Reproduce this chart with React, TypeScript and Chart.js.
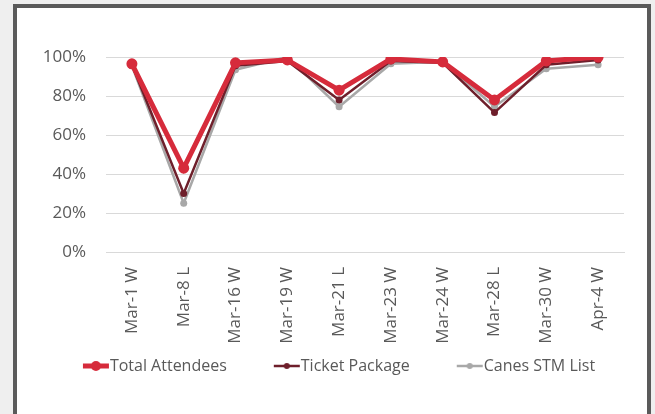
import React, { useEffect, useRef } from "react";
import { Chart, registerables } from "chart.js";

Chart.register(...registerables);

const categories = ["Mar-1 W", "Mar-8 L", "Mar-16 W", "Mar-19 W", "Mar-21 L", "Mar-23 W", "Mar-24 W", "Mar-28 L", "Mar-30 W", "Apr-4 W"];
const totalAttendees = [0.965, 0.43, 0.97, 0.985, 0.83, 0.99, 0.975, 0.78, 0.98, 1.0];
const ticketPackage = [0.96, 0.30, 0.955, 0.98, 0.78, 0.98, 0.97, 0.715, 0.96, 0.985];
const canesSTMList = [0.955, 0.25, 0.935, 1.0, 0.745, 0.965, 0.975, 0.745, 0.94, 0.96];
const seriesNames = ["Total Attendees", "Ticket Package", "Canes STM List"];

const FONT = "'Open Sans', sans-serif";
const TEXT = "#595959";
const PSW = 56; // legend box width

function legendImage(color: string, lineW: number, r: number) {
  const c = document.createElement("canvas");
  const w = PSW + 16;
  c.width = w;
  c.height = 14;
  const ctx = c.getContext("2d")!;
  const x0 = w - 27;
  const x1 = w - 1;
  ctx.strokeStyle = color;
  ctx.lineWidth = lineW;
  ctx.beginPath();
  ctx.moveTo(x0, 7);
  ctx.lineTo(x1, 7);
  ctx.stroke();
  ctx.fillStyle = color;
  ctx.beginPath();
  ctx.arc((x0 + x1) / 2, 7, r, 0, Math.PI * 2);
  ctx.fill();
  return c;
}

export default function App() {
  const ref = useRef<HTMLCanvasElement>(null);
  useEffect(() => {
    const imgs = [
      legendImage("#d62b3b", 5, 5),
      legendImage("#6e1f2b", 2.5, 3),
      legendImage("#a8a8a8", 2.5, 3),
    ];
    const chart = new Chart(ref.current!, {
      type: "line",
      data: {
        labels: categories,
        datasets: [
          {
            label: seriesNames[0],
            data: totalAttendees,
            borderColor: "#d62b3b",
            backgroundColor: "#d62b3b",
            borderWidth: 5,
            pointRadius: 5.5,
            pointBorderWidth: 0,
            pointStyle: "circle",
          },
          {
            label: seriesNames[1],
            data: ticketPackage,
            borderColor: "#6e1f2b",
            backgroundColor: "#6e1f2b",
            borderWidth: 2.5,
            pointRadius: 3.5,
            pointBorderWidth: 0,
          },
          {
            label: seriesNames[2],
            data: canesSTMList,
            borderColor: "#a8a8a8",
            backgroundColor: "#a8a8a8",
            borderWidth: 2.5,
            pointRadius: 3.5,
            pointBorderWidth: 0,
          },
        ],
      },
      options: {
        animation: false,
        responsive: false,
        maintainAspectRatio: false,
        layout: { padding: { left: 0, right: 23, top: 49, bottom: 30 } },
        scales: {
          x: {
            offset: true,
            grid: { display: false, drawTicks: false },
            border: { display: true, color: "#d9d9d9", width: 1 },
            ticks: {
              minRotation: 90,
              maxRotation: 90,
              padding: 15,
              color: TEXT,
              font: { family: FONT, size: 17 },
            },
            afterFit: (s: any) => {
              s.height = 96;
            },
          },
          y: {
            min: 0,
            max: 1,
            grid: { color: "#d9d9d9", drawTicks: false, lineWidth: 1 },
            border: { display: false },
            ticks: {
              stepSize: 0.2,
              padding: 20,
              color: TEXT,
              font: { family: FONT, size: 17 },
              callback: (v: any) => Math.round(Number(v) * 100) + "%",
            },
            afterFit: (s: any) => {
              s.width = 89;
            },
          },
        },
        plugins: {
          tooltip: { enabled: false },
          legend: {
            position: "bottom",
            labels: {
              usePointStyle: true,
              pointStyleWidth: PSW,
              padding: 10,
              color: TEXT,
              font: { family: FONT, size: 16 },
              generateLabels: (ch: any) =>
                ch.data.datasets.map((d: any, i: number) => ({
                  text: d.label,
                  pointStyle: imgs[i],
                  fillStyle: "transparent",
                  strokeStyle: "transparent",
                  lineWidth: 0,
                  hidden: false,
                  datasetIndex: i,
                  fontColor: TEXT,
                })),
            },
          },
        },
      },
    });
    return () => chart.destroy();
  }, []);

  return (
    <div style={{ position: "fixed", left: 0, top: 0, width: 655, height: 414, background: "#efefef", overflow: "hidden" }}>
      <div
        style={{
          position: "absolute",
          left: 13,
          top: 4,
          width: 630,
          height: 430,
          border: "4px solid #5a5a5a",
          background: "#ffffff",
        }}
      >
        <canvas ref={ref} width={630} height={406} style={{ display: "block" }} />
      </div>
    </div>
  );
}
